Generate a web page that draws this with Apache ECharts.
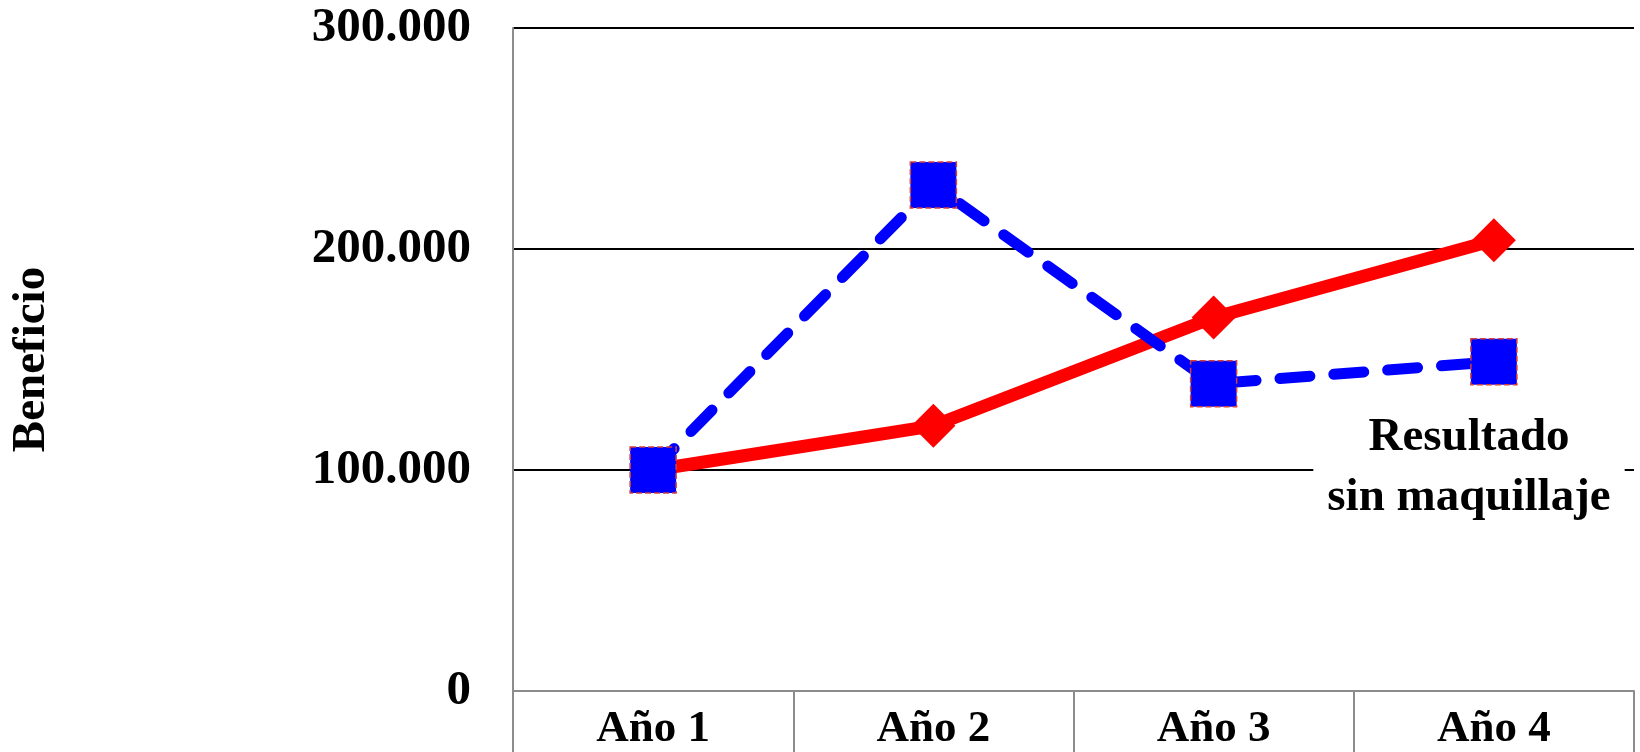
<!DOCTYPE html>
<html>
<head>
<meta charset="utf-8">
<script src="https://cdn.jsdelivr.net/npm/echarts@6/dist/echarts.min.js"></script>
<style>
html,body{margin:0;padding:0;background:#fff;}
#chart{width:1640px;height:752px;}
</style>
</head>
<body>
<div id="chart"></div>
<script>
const categories = ['Año 1', 'Año 2', 'Año 3', 'Año 4'];
const conMaquillaje = [100000, 120000, 169000, 204000];
const sinMaquillaje = [100000, 229000, 139000, 149000];
const yAxisName = 'Beneficio';
const annotation = 'Resultado\nsin maquillaje';

const FONT = '"Liberation Serif", "Times New Roman", serif';
const chart = echarts.init(document.getElementById('chart'), null, {renderer: 'canvas'});

function fmt(v) {
  return v === 0 ? '0' : String(v).replace(/\B(?=(\d{3})+(?!\d))/g, '.');
}

chart.setOption({
  backgroundColor: '#ffffff',
  animation: false,
  grid: {left: 509, right: 6, top: 28, bottom: 59, containLabel: false},
  xAxis: {
    type: 'category',
    data: categories,
    boundaryGap: true,
    axisLine: {show: true, lineStyle: {color: '#8c8c8c', width: 2}},
    axisTick: {show: true, length: 70, lineStyle: {color: '#8c8c8c', width: 2}},
    axisLabel: {color: '#000', fontFamily: FONT, fontWeight: 'bold', fontSize: 45, margin: 16}
  },
  yAxis: {
    type: 'value',
    min: 0, max: 300000, interval: 100000,
    name: yAxisName,
    nameLocation: 'middle',
    nameGap: 458,
    nameTextStyle: {color: '#000', fontFamily: FONT, fontWeight: 'bold', fontSize: 47},
    axisLine: {show: true, lineStyle: {color: '#8c8c8c', width: 2}},
    axisTick: {show: false},
    axisLabel: {color: '#000', fontFamily: FONT, fontWeight: 'bold', fontSize: 49, margin: 42, formatter: fmt},
    splitLine: {show: true, lineStyle: {color: '#000', width: 2}}
  },
  series: [
    {
      type: 'line',
      data: conMaquillaje,
      symbol: 'diamond',
      symbolSize: [44, 44],
      lineStyle: {color: '#ff0000', width: 13},
      itemStyle: {color: '#ff0000'},
      z: 2
    },
    {
      type: 'line',
      data: sinMaquillaje,
      symbol: 'rect',
      symbolSize: [46, 46],
      lineStyle: {color: '#0000ff', width: 11, type: [30, 24], cap: 'round'},
      itemStyle: {color: '#0000ff', borderColor: '#d04040', borderWidth: 1.5, borderType: 'dashed'},
      z: 3
    }
  ],
  graphic: [
    {
      type: 'text',
      x: 1469,
      y: 408,
      z: 10,
      style: {
        text: annotation,
        fill: '#000',
        font: 'bold 47px ' + FONT,
        align: 'center',
        verticalAlign: 'top',
        lineHeight: 60,
        backgroundColor: '#fff',
        padding: [0, 14]
      }
    }
  ]
});
</script>
</body>
</html>
